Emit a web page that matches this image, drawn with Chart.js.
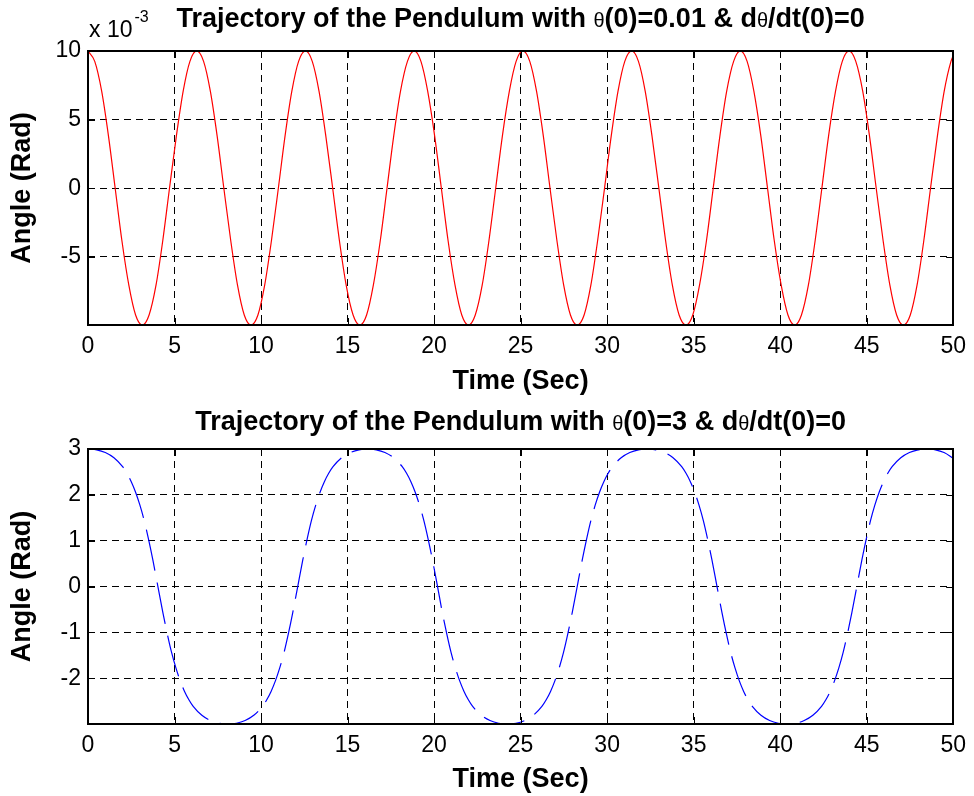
<!DOCTYPE html>
<html><head><meta charset="utf-8">
<script src="https://cdn.jsdelivr.net/npm/chart.js@4.4.1/dist/chart.umd.min.js"></script>
<style>
html,body{margin:0;padding:0;background:#fff;}
#wrap{position:relative;width:974px;height:796px;overflow:hidden;background:#fff;}
canvas{position:absolute;left:0;}
#c1{top:0;} #c2{top:400px;}
</style></head><body>
<div id="wrap"><canvas id="c1" width="974" height="400"></canvas><canvas id="c2" width="974" height="396"></canvas></div>
<script>
// ---- data ----
const timeTop = [
0, 0.39, 0.79, 1.18, 1.57, 1.96, 2.36, 2.75, 3.14, 3.53, 3.93, 4.32, 4.71, 5.11, 5.50, 5.89,
6.28, 6.68, 7.07, 7.46, 7.85, 8.25, 8.64, 9.03, 9.42, 9.82, 10.21, 10.60, 11.00, 11.39, 11.78, 12.17,
12.57, 12.96, 13.35, 13.74, 14.14, 14.53, 14.92, 15.32, 15.71, 16.10, 16.49, 16.89, 17.28, 17.67, 18.06, 18.46,
18.85, 19.24, 19.63, 20.03, 20.42, 20.81, 21.21, 21.60, 21.99, 22.38, 22.78, 23.17, 23.56, 23.95, 24.35, 24.74,
25.13, 25.53, 25.92, 26.31, 26.70, 27.10, 27.49, 27.88, 28.27, 28.67, 29.06, 29.45, 29.85, 30.24, 30.63, 31.02,
31.42, 31.81, 32.20, 32.59, 32.99, 33.38, 33.77, 34.16, 34.56, 34.95, 35.34, 35.74, 36.13, 36.52, 36.91, 37.31,
37.70, 38.09, 38.48, 38.88, 39.27, 39.66, 40.06, 40.45, 40.84, 41.23, 41.63, 42.02, 42.41, 42.80, 43.20, 43.59,
43.98, 44.37, 44.77, 45.16, 45.55, 45.95, 46.34, 46.73, 47.12, 47.52, 47.91, 48.30, 48.69, 49.09, 49.48, 49.87,
50];
// angle in units of 10^-3 rad
const angleTop = [
10, 9.24, 7.07, 3.83, 0, -3.83, -7.07, -9.24, -9.97, -9.24, -7.07, -3.83, 0, 3.83, 7.07, 9.24,
10, 9.24, 7.07, 3.83, 0, -3.83, -7.07, -9.24, -9.97, -9.24, -7.07, -3.83, 0, 3.83, 7.07, 9.24,
10, 9.24, 7.07, 3.83, 0, -3.83, -7.07, -9.24, -9.97, -9.24, -7.07, -3.83, 0, 3.83, 7.07, 9.24,
10, 9.24, 7.07, 3.83, 0, -3.83, -7.07, -9.24, -9.97, -9.24, -7.07, -3.83, 0, 3.83, 7.07, 9.24,
10, 9.24, 7.07, 3.83, 0, -3.83, -7.07, -9.24, -9.97, -9.24, -7.07, -3.83, 0, 3.83, 7.07, 9.24,
10, 9.24, 7.07, 3.83, 0, -3.83, -7.07, -9.24, -9.97, -9.24, -7.07, -3.83, 0, 3.83, 7.07, 9.24,
10, 9.24, 7.07, 3.83, 0, -3.83, -7.07, -9.24, -9.97, -9.24, -7.07, -3.83, 0, 3.83, 7.07, 9.24,
10, 9.24, 7.07, 3.83, 0, -3.83, -7.07, -9.24, -9.97, -9.24, -7.07, -3.83, 0, 3.83, 7.07, 9.24,
9.65];

const timeBottom = [
0, 0.5, 1.0, 1.5, 2.0, 2.25, 2.5, 2.75, 3.0, 3.25, 3.5, 3.75, 4.04, 4.33, 4.58, 4.83, 5.08, 5.33, 5.58, 5.83, 6.08, 6.58, 7.08, 7.58, 8.08,
8.58, 9.08, 9.58, 10.08, 10.33, 10.58, 10.83, 11.08, 11.33, 11.58, 11.83, 12.12, 12.41, 12.66, 12.91, 13.16, 13.41, 13.66, 13.91, 14.16, 14.66, 15.16, 15.66, 16.16,
16.66, 17.16, 17.66, 18.16, 18.41, 18.66, 18.91, 19.16, 19.41, 19.66, 19.91, 20.20, 20.48, 20.73, 20.98, 21.23, 21.48, 21.73, 21.98, 22.23, 22.73, 23.23, 23.73, 24.23,
24.73, 25.23, 25.73, 26.23, 26.48, 26.73, 26.98, 27.23, 27.48, 27.73, 27.98, 28.27, 28.56, 28.81, 29.06, 29.31, 29.56, 29.81, 30.06, 30.31, 30.81, 31.31, 31.81, 32.31,
32.81, 33.31, 33.81, 34.31, 34.56, 34.81, 35.06, 35.31, 35.56, 35.81, 36.06, 36.35, 36.64, 36.89, 37.14, 37.39, 37.64, 37.89, 38.14, 38.39, 38.89, 39.39, 39.89, 40.39,
40.89, 41.39, 41.89, 42.39, 42.64, 42.89, 43.14, 43.39, 43.64, 43.89, 44.14, 44.43, 44.72, 44.97, 45.22, 45.47, 45.72, 45.97, 46.22, 46.47, 46.97, 47.47, 47.97, 48.47,
48.97, 49.47, 50];
const angleBottom = [
3.000, 2.982, 2.923, 2.809, 2.614, 2.470, 2.287, 2.058, 1.775, 1.437, 1.028, 0.574, 0, -0.574, -1.028, -1.437, -1.775, -2.058, -2.287, -2.470, -2.614, -2.809, -2.923, -2.982, -2.998,
-2.982, -2.923, -2.809, -2.614, -2.470, -2.287, -2.058, -1.775, -1.437, -1.028, -0.574, 0, 0.574, 1.028, 1.437, 1.775, 2.058, 2.287, 2.470, 2.614, 2.809, 2.923, 2.982, 3.000,
2.982, 2.923, 2.809, 2.614, 2.470, 2.287, 2.058, 1.775, 1.437, 1.028, 0.574, 0, -0.574, -1.028, -1.437, -1.775, -2.058, -2.287, -2.470, -2.614, -2.809, -2.923, -2.982, -2.998,
-2.982, -2.923, -2.809, -2.614, -2.470, -2.287, -2.058, -1.775, -1.437, -1.028, -0.574, 0, 0.574, 1.028, 1.437, 1.775, 2.058, 2.287, 2.470, 2.614, 2.809, 2.923, 2.982, 3.000,
2.982, 2.923, 2.809, 2.614, 2.470, 2.287, 2.058, 1.775, 1.437, 1.028, 0.574, 0, -0.574, -1.028, -1.437, -1.775, -2.058, -2.287, -2.470, -2.614, -2.809, -2.923, -2.982, -2.998,
-2.982, -2.923, -2.809, -2.614, -2.470, -2.287, -2.058, -1.775, -1.437, -1.028, -0.574, 0, 0.574, 1.028, 1.437, 1.775, 2.058, 2.287, 2.470, 2.614, 2.809, 2.923, 2.982, 3.000,
2.982, 2.923, 2.80];

const xTicks = [0, 5, 10, 15, 20, 25, 30, 35, 40, 45, 50];
const yTicksTop = [-5, 0, 5, 10];
const yTicksBottom = [-2, -1, 0, 1, 2, 3];
const titleTop = [['Trajectory of the Pendulum with ', 0], ['θ', 1], ['(0)=0.01 & d', 0], ['θ', 1], ['/dt(0)=0', 0]];
const titleBottom = [['Trajectory of the Pendulum with ', 0], ['θ', 1], ['(0)=3 & d', 0], ['θ', 1], ['/dt(0)=0', 0]];
const xTitle = 'Time (Sec)';
const yTitle = 'Angle (Rad)';

// ---- styling ----
const FAM = '"Liberation Sans", Arial, Helvetica, sans-serif';
const BOLD = 'bold 27px ' + FAM;
const SYM = 'normal 20px ' + FAM;

function titlePlugin(segs, baseline, extra) {
  return {
    id: 'richTitle',
    afterDraw(chart) {
      const ctx = chart.ctx, a = chart.chartArea;
      ctx.save();
      ctx.fillStyle = '#000';
      ctx.textBaseline = 'alphabetic';
      ctx.textAlign = 'left';
      let total = 0;
      const parts = segs.map(s => { const f = s[1] ? SYM : BOLD; ctx.font = f; const w = ctx.measureText(s[0]).width; total += w; return {t: s[0], f, w}; });
      let x = (a.left + a.right) / 2 - total / 2;
      for (const p of parts) { ctx.font = p.f; ctx.fillText(p.t, x, baseline); x += p.w; }
      if (extra) {
        ctx.font = 'normal 23px ' + FAM;
        ctx.fillText('x 10', 89, 37);
        const w = ctx.measureText('x 10').width;
        ctx.font = 'normal 16px ' + FAM;
        ctx.fillText('-3', 89 + w + 2, 22);
      }
      ctx.restore();
    }
  };
}

const boxPlugin = {
  id: 'box',
  afterDraw(chart) {
    const {ctx, chartArea: a, scales} = chart;
    ctx.save();
    ctx.strokeStyle = '#000';
    ctx.lineWidth = 1;
    ctx.beginPath();
    scales.x.ticks.forEach(t => {
      const px = Math.round(scales.x.getPixelForValue(t.value)) + 0.5;
      ctx.moveTo(px, a.bottom); ctx.lineTo(px, a.bottom - 7);
      ctx.moveTo(px, a.top); ctx.lineTo(px, a.top + 7);
    });
    scales.y.ticks.forEach(t => {
      const py = Math.round(scales.y.getPixelForValue(t.value)) + 0.5;
      ctx.moveTo(a.left, py); ctx.lineTo(a.left + 7, py);
      ctx.moveTo(a.right, py); ctx.lineTo(a.right - 7, py);
    });
    ctx.stroke();
    ctx.lineWidth = 2;
    ctx.strokeRect(Math.round(a.left), Math.round(a.top), Math.round(a.right - a.left), Math.round(a.bottom - a.top));
    ctx.restore();
  }
};

function makeChart(id, times, vals, yMin, yMax, yTicks, lineOpts, segs, titleBase, extra, xH, xTitlePad, topPad) {
  const pts = times.map((t, i) => ({x: t, y: vals[i]}));
  return new Chart(document.getElementById(id), {
    type: 'line',
    data: { datasets: [Object.assign({ data: pts, pointRadius: 0, fill: false, cubicInterpolationMode: 'monotone', borderWidth: 1.2 }, lineOpts)] },
    options: {
      responsive: false, animation: false, devicePixelRatio: 1,
      layout: { padding: { top: topPad, right: 17, left: 0, bottom: 0 } },
      plugins: { legend: { display: false }, tooltip: { enabled: false }, title: { display: false } },
      events: [],
      scales: {
        x: {
          type: 'linear', min: 0, max: 50,
          afterBuildTicks: s => { s.ticks = xTicks.map(v => ({value: v})); },
          afterFit: s => { s.height = xH; },
          ticks: { font: { size: 23, family: FAM }, color: '#000', padding: 8, maxRotation: 0, autoSkip: false },
          grid: { color: '#000', lineWidth: 1, drawTicks: false },
          border: { display: false, dash: [7, 5] },
          title: { display: true, text: xTitle, color: '#000', font: { size: 27, weight: 'bold', family: FAM }, padding: { top: 0, bottom: xTitlePad } }
        },
        y: {
          type: 'linear', min: yMin, max: yMax,
          afterBuildTicks: s => { s.ticks = yTicks.map(v => ({value: v})); },
          afterFit: s => { s.width = 88; },
          ticks: { font: { size: 23, family: FAM }, color: '#000', padding: 7, callback: v => String(v) },
          grid: { color: '#000', lineWidth: 1, drawTicks: false },
          border: { display: false, dash: [7, 5] },
          title: { display: true, text: yTitle, color: '#000', font: { size: 27, weight: 'bold', family: FAM }, padding: { top: 6, bottom: 0 } }
        }
      }
    },
    plugins: [titlePlugin(segs, titleBase, extra), boxPlugin]
  });
}

makeChart('c1', timeTop, angleTop, -9.97, 10, yTicksTop,
  { borderColor: '#ff0000' }, titleTop, 27, true, 75, 2, 51);
makeChart('c2', timeBottom, angleBottom, -2.998, 3, yTicksBottom,
  { borderColor: '#0000ff', borderDash: [42, 12] }, titleBottom, 30, false, 72, 0, 49);
</script>
</body></html>
